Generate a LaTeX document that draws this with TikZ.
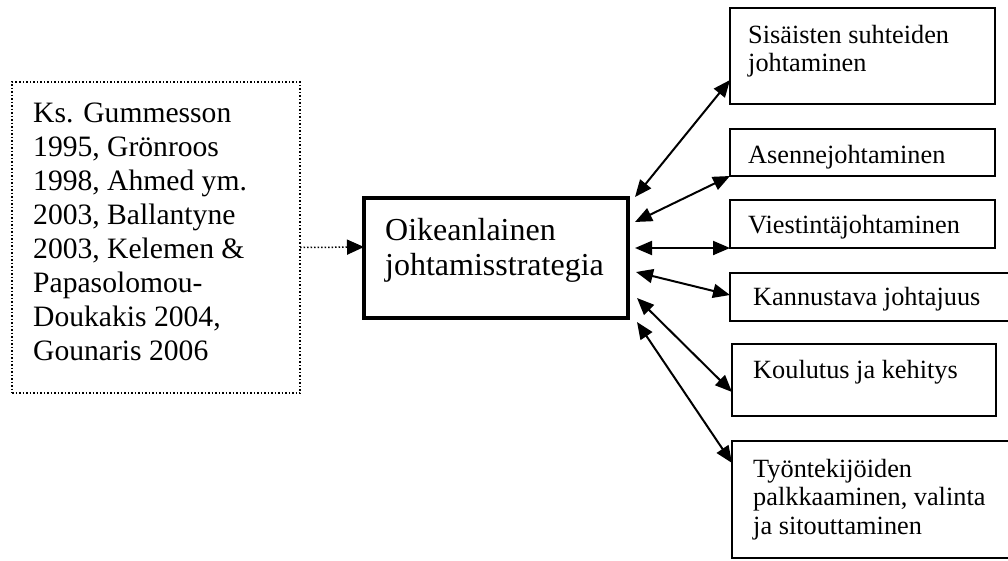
\documentclass[tikz,border=0pt]{standalone}
\usepackage{fontspec}
\setmainfont{Liberation Serif}
\usetikzlibrary{arrows.meta}

\begin{document}
\begin{tikzpicture}[x=1pt, y=-1pt,
  box/.style={draw, line width=2pt, inner sep=0pt, outer sep=0pt, anchor=north west},
  mainbox/.style={box, line width=3.3pt},
  srcbox/.style={box, line width=1.5pt, dotted},
  rtxt/.style={anchor=base west, inner sep=0pt, align=flush left, text width=250pt, font=\fontsize{26.3}{28.5}\selectfont},
  ctxt/.style={rtxt, text width=240pt, font=\fontsize{32}{35}\selectfont},
  ltxt/.style={rtxt, text width=265pt, font=\fontsize{29.6}{34}\selectfont},
  link/.style={{Triangle[length=17pt,width=14pt]}-{Triangle[length=17pt,width=14pt]}, line width=2pt},
  src/.style={-{Triangle[length=17pt,width=15pt]}, line width=1.5pt, dotted}]

  \clip (0,0) rectangle (1008,560);

  % Sources
  \node[srcbox, minimum width=288pt, minimum height=311pt] (L) at (12,82) {};
  \node[ltxt] (Lt) at ([shift={(21,40)}]L.north west)
    {Ks. Gummesson\\1995, Grönroos\\1998, Ahmed ym.\\2003, Ballantyne\\2003, Kelemen \&\\Papasolomou-\\Doukakis 2004,\\Gounaris 2006};

  % Strategy
  \node[mainbox, minimum width=264pt, minimum height=120pt] (C) at (364,198) {};
  \node[ctxt] (Ct) at ([shift={(21,42)}]C.north west) {Oikeanlainen\\johtamisstrategia};

  % Areas
  \node[box, minimum width=265pt, minimum height=96pt] (S1) at (730,8) {};
  \node[box, minimum width=265pt, minimum height=47pt] (S2) at (730,129) {};
  \node[box, minimum width=265pt, minimum height=48pt] (S3) at (730,200) {};
  \node[box, minimum width=290pt, minimum height=48pt] (S4) at (730,273) {};
  \node[box, minimum width=264pt, minimum height=72pt] (S5) at (732,344) {};
  \node[box, minimum width=290pt, minimum height=117pt] (S6) at (732,441) {};

  \node[rtxt] (T1) at ([shift={(18,35)}]S1.north west) {Sisäisten suhteiden\\johtaminen};
  \node[rtxt] (T2) at ([shift={(18,34)}]S2.north west) {Asennejohtaminen};
  \node[rtxt] (T3) at ([shift={(18,33)}]S3.north west) {Viestintäjohtaminen};
  \node[rtxt] (T4) at ([shift={(23,32)}]S4.north west) {Kannustava johtajuus};
  \node[rtxt] (T5) at ([shift={(21,34)}]S5.north west) {Koulutus ja kehitys};
  \node[rtxt] (T6) at ([shift={(21,36)}]S6.north west) {Työntekijöiden\\palkkaaminen, valinta\\ja sitouttaminen};

  % Edges
  \draw[src] ([shift={(0,10)}]L.east) -- ([shift={(0,-11)}]C.west);

  \draw[link] ([shift={(7,-1)}]C.north east) -- ([shift={(0,-24)}]S1.south west);
  \draw[link] ([shift={(7,24)}]C.north east) -- (S2.south west);
  \draw[link] ([shift={(7,50)}]C.north east) -- (S3.south west);
  \draw[link] ([shift={(8,74)}]C.north east) -- ([shift={(0,-26)}]S4.south west);
  \draw[link] ([shift={(9,100)}]C.north east) -- ([shift={(0,-24)}]S5.south west);
  \draw[link] ([shift={(9,124)}]C.north east) -- ([shift={(0,22)}]S6.north west);

\end{tikzpicture}
\end{document}
